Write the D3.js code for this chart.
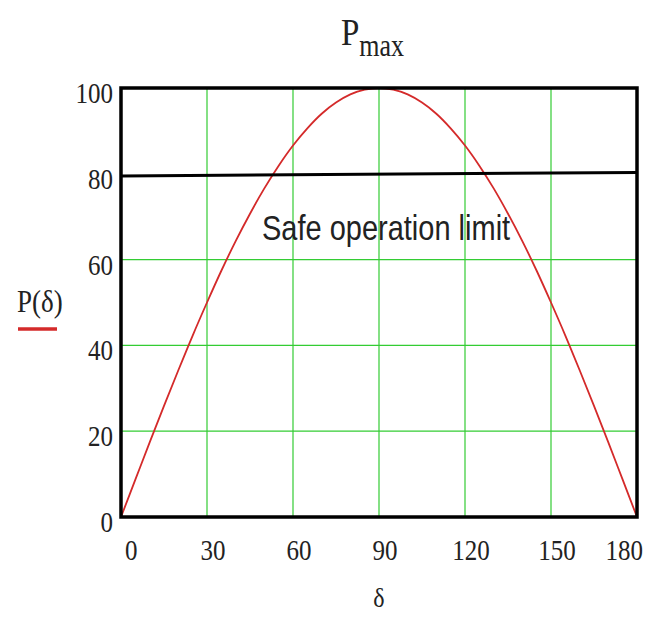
<!DOCTYPE html>
<html>
<head>
<meta charset="utf-8">
<script src="https://cdn.jsdelivr.net/npm/d3@7"></script>
<style>
  html, body { margin: 0; padding: 0; background: #fff; }
  svg { display: block; }
  .serif { font-family: "Liberation Serif", "DejaVu Serif", serif; fill: #222; }
  .sans { font-family: "Liberation Sans", Arial, sans-serif; fill: #222; }
</style>
</head>
<body>
<svg id="chart" width="655" height="618"></svg>
<script>
// Load angle δ (degrees) and transmitted power P(δ)
const deltaDeg = [0, 5, 10, 15, 20, 25, 30, 35, 40, 45, 50, 55, 60, 65, 70, 75, 80, 85, 90,
                  95, 100, 105, 110, 115, 120, 125, 130, 135, 140, 145, 150, 155, 160, 165, 170, 175, 180];
const powerP   = [0, 8.7, 17.4, 25.9, 34.2, 42.3, 50, 57.4, 64.3, 70.7, 76.6, 81.9, 86.6, 90.6, 94, 96.6, 98.5, 99.6, 100,
                  99.6, 98.5, 96.6, 94, 90.6, 86.6, 81.9, 76.6, 70.7, 64.3, 57.4, 50, 42.3, 34.2, 25.9, 17.4, 8.7, 0];

// Safe operation limit line (ends at δ = 0 and δ = 180)
const limitX = [0, 180];
const limitY = [79.5, 80.3];

const xTicks = [0, 30, 60, 90, 120, 150, 180];
const yTicks = [0, 20, 40, 60, 80, 100];
const xGrid = [30, 60, 90, 120, 150];
const yGrid = [20, 40, 60];

const svg = d3.select("#chart");
const plotL = 121, plotR = 637, plotT = 88, plotB = 517;
const stretch = 1.18; // tall, narrow lettering

const x = d3.scaleLinear().domain([0, 180]).range([plotL, plotR]);
const y = d3.scaleLinear().domain([0, 100]).range([plotB, plotT]);

// place a text at (px, py) with vertical stretch
function place(sel, px, py) {
  return sel.attr("transform", (d, i) => {
    const a = typeof px === "function" ? px(d, i) : px;
    const b = typeof py === "function" ? py(d, i) : py;
    return `translate(${a},${b}) scale(1,${stretch})`;
  });
}

// grid
const green = "#33cc33";
svg.append("g").selectAll("line").data(xGrid).join("line")
  .attr("x1", d => x(d)).attr("x2", d => x(d))
  .attr("y1", plotT).attr("y2", plotB)
  .attr("stroke", green).attr("stroke-width", 1.2);
svg.append("g").selectAll("line").data(yGrid).join("line")
  .attr("x1", plotL).attr("x2", plotR)
  .attr("y1", d => y(d)).attr("y2", d => y(d))
  .attr("stroke", green).attr("stroke-width", 1.2);

// P(δ) curve
const line = d3.line().x(d => x(d[0])).y(d => y(d[1])).curve(d3.curveCatmullRom);
svg.append("path")
  .datum(deltaDeg.map((d, i) => [d, powerP[i]]))
  .attr("d", line)
  .attr("fill", "none")
  .attr("stroke", "#d42a2a")
  .attr("stroke-width", 1.8);

// safe operation limit
svg.append("line")
  .attr("x1", x(limitX[0])).attr("y1", y(limitY[0]))
  .attr("x2", x(limitX[1])).attr("y2", y(limitY[1]))
  .attr("stroke", "#000").attr("stroke-width", 3);

// frame
svg.append("rect")
  .attr("x", plotL).attr("y", plotT)
  .attr("width", plotR - plotL).attr("height", plotB - plotT)
  .attr("fill", "none").attr("stroke", "#000").attr("stroke-width", 3.5);

// y tick labels
place(svg.append("g").selectAll("text").data(yTicks).join("text")
  .attr("class", "serif")
  .attr("text-anchor", "end")
  .attr("font-size", 25)
  .text(d => d), plotL - 8, d => y(d) + 15);

// x tick labels, kept near the frame at both ends
const xl = svg.append("g").selectAll("text").data(xTicks).join("text")
  .attr("class", "serif")
  .attr("text-anchor", "middle")
  .attr("font-size", 25)
  .text(d => d);
xl.each(function (d) {
  const w = this.getComputedTextLength();
  const cx = Math.max(plotL + 4 + w / 2, Math.min(plotR + 6 - w / 2, x(d) + 6));
  d3.select(this).attr("transform", `translate(${cx},${plotB + 43}) scale(1,${stretch})`);
});

// title
const title = place(svg.append("text").attr("class", "serif")
  .attr("font-size", 33), 341, 45);
title.append("tspan").text("P");
title.append("tspan").attr("font-size", 26).attr("dy", 9).text("max");

// y axis label with legend swatch
place(svg.append("text").attr("class", "serif")
  .attr("font-size", 27)
  .text("P(δ)"), 17, 312);
svg.append("line")
  .attr("x1", 18).attr("x2", 57).attr("y1", 329).attr("y2", 329)
  .attr("stroke", "#d42a2a").attr("stroke-width", 3.5);

// x axis label
place(svg.append("text").attr("class", "serif")
  .attr("text-anchor", "middle")
  .attr("font-size", 24)
  .text("δ"), 379, 607);

// annotation
place(svg.append("text").attr("class", "sans")
  .attr("font-size", 29)
  .text("Safe operation limit"), 262, 240);
</script>
</body>
</html>
